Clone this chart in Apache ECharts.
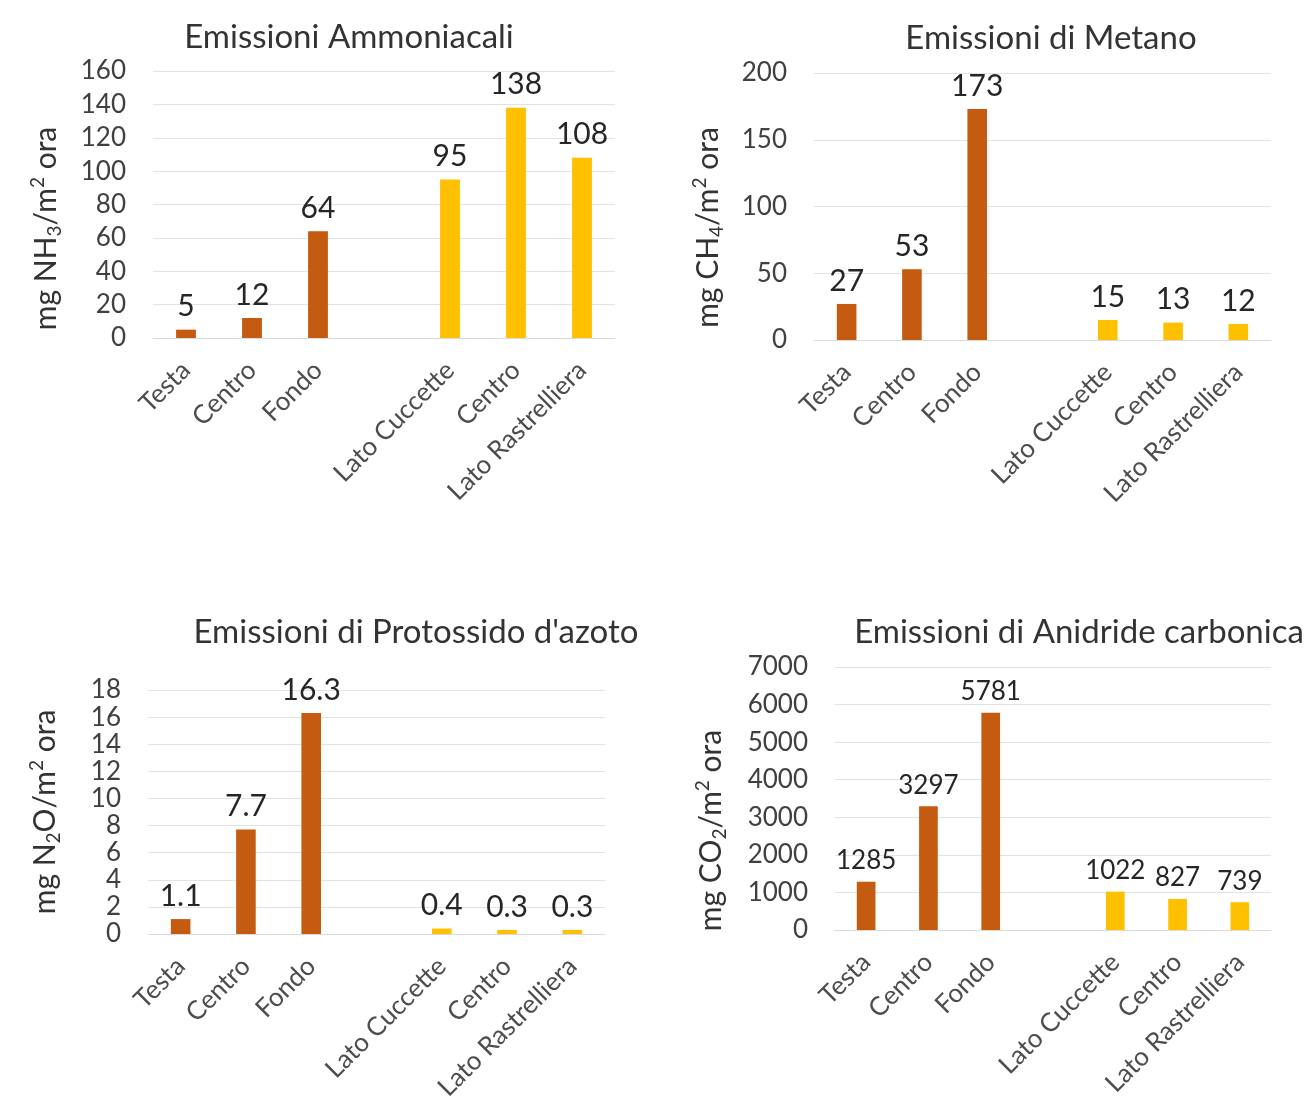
<!DOCTYPE html>
<html>
<head>
<meta charset="utf-8">
<title>Emissioni</title>
<script src="https://cdn.jsdelivr.net/npm/echarts@6/dist/echarts.min.js"></script>
<style>
  html, body { margin: 0; padding: 0; background: #ffffff; }
  #chart { width: 1311px; height: 1097px; }
</style>
</head>
<body>
<div id="chart"></div>
<script>
// Sampling points along the barn; the blank entry separates the two groups
const categories = ['Testa', 'Centro', 'Fondo', '', 'Lato Cuccette', 'Centro', 'Lato Rastrelliera'];
// group of each category: 0 = longitudinal, 1 = transversal, null = spacer
const groupIndex = [0, 0, 0, null, 1, 1, 1];

// Emission values (mg / m2 ora)
const ammoniaca = [5, 12, 64, null, 95, 138, 108];
const metano = [27, 53, 173, null, 15, 13, 12];
const protossido = [1.1, 7.7, 16.3, null, 0.4, 0.3, 0.3];
const anidride = [1285, 3297, 5781, null, 1022, 827, 739];

const titles = [
  'Emissioni Ammoniacali',
  'Emissioni di Metano',
  "Emissioni di Protossido d'azoto",
  'Emissioni di Anidride carbonica'
];

// Y-axis ranges and steps
const yMax = [160, 200, 18, 7000];
const yStep = [20, 50, 2, 1000];

const FONT = 'Lato, "Open Sans", sans-serif';
const groupColors = ['#C55A11', '#FFC000'];

// Panel geometry in pixels
const panels = [
  { left: 153, top: 71, width: 462, height: 267, nameGap: 89, nameShift: 24, labelSize: 30, formula: ['NH', '3'] },
  { left: 814, top: 73, width: 457, height: 267, nameGap: 88, nameShift: 21, labelSize: 30, formula: ['CH', '4'] },
  { left: 148, top: 690, width: 457, height: 244, nameGap: 85, nameShift: 0, labelSize: 30, formula: ['N', '2', 'O'] },
  { left: 835, top: 667, width: 436, height: 263, nameGap: 106, nameShift: 32, labelSize: 26, formula: ['CO', '2'] }
];
const titlePos = [
  { x: 344, y: 37 },
  { x: 1046, y: 38 },
  { x: 411, y: 632 },
  { x: 1074, y: 632 }
];
const seriesData = [ammoniaca, metano, protossido, anidride];

function axisName(f) {
  let s = '{t|mg ' + f[0] + '}{sub|' + f[1] + '}';
  if (f[2]) s += '{t|' + f[2] + '}';
  s += '{t|/m}{sup|2}{t| ora}';
  return s;
}

const option = {
  backgroundColor: '#ffffff',
  animation: false,
  title: titles.map((t, i) => ({
    text: t,
    left: titlePos[i].x,
    top: titlePos[i].y - 21,
    textAlign: 'center',
    textStyle: { fontFamily: FONT, fontSize: 33, fontWeight: 'normal', color: '#333333' }
  })),
  // fixed plot rectangles; labels may run past the canvas edge
  grid: panels.map(p => ({
    left: p.left, top: p.top, width: p.width, height: p.height,
    containLabel: false,
    outerBoundsMode: 'none'
  })),
  xAxis: panels.map((p, i) => ({
    type: 'category',
    gridIndex: i,
    data: categories,
    axisTick: { show: false },
    axisLine: { show: true, lineStyle: { color: '#d9d9d9', width: 1 } },
    axisLabel: {
      interval: 0,
      rotate: 45,
      margin: 28,
      fontFamily: FONT,
      fontSize: 26,
      color: '#4d4d4d'
    }
  })),
  yAxis: panels.map((p, i) => ({
    type: 'value',
    gridIndex: i,
    min: 0,
    max: yMax[i],
    interval: yStep[i],
    axisLine: { show: false },
    axisTick: { show: false },
    splitLine: { show: true, lineStyle: { color: '#e3e3e3', width: 1 } },
    axisLabel: {
      fontFamily: FONT, fontSize: 26, color: '#404040', margin: 27,
      formatter: v => String(v)
    },
    name: axisName(p.formula),
    nameLocation: 'middle',
    nameRotate: 90,
    nameGap: p.nameGap,
    nameTextStyle: {
      fontFamily: FONT,
      color: '#333333',
      padding: [0, p.nameShift * 2, 0, 0],
      rich: {
        t: { fontFamily: FONT, fontSize: 30, color: '#333333', lineHeight: 36, verticalAlign: 'middle' },
        sub: { fontFamily: FONT, fontSize: 19, color: '#333333', lineHeight: 36, verticalAlign: 'bottom' },
        sup: { fontFamily: FONT, fontSize: 19, color: '#333333', lineHeight: 36, verticalAlign: 'top' }
      }
    }
  })),
  series: panels.map((p, i) => ({
    type: 'bar',
    xAxisIndex: i,
    yAxisIndex: i,
    barWidth: '30%',
    data: seriesData[i].map((v, k) => ({
      value: v,
      itemStyle: { color: groupIndex[k] === null ? 'transparent' : groupColors[groupIndex[k]] }
    })),
    label: {
      show: true,
      position: 'top',
      distance: 8,
      fontFamily: FONT,
      fontSize: p.labelSize,
      color: '#262626',
      formatter: prm => (prm.value === null || prm.value === undefined ? '' : String(prm.value))
    }
  }))
};

const chart = echarts.init(document.getElementById('chart'), null, { renderer: 'canvas' });
chart.setOption(option);
</script>
</body>
</html>
